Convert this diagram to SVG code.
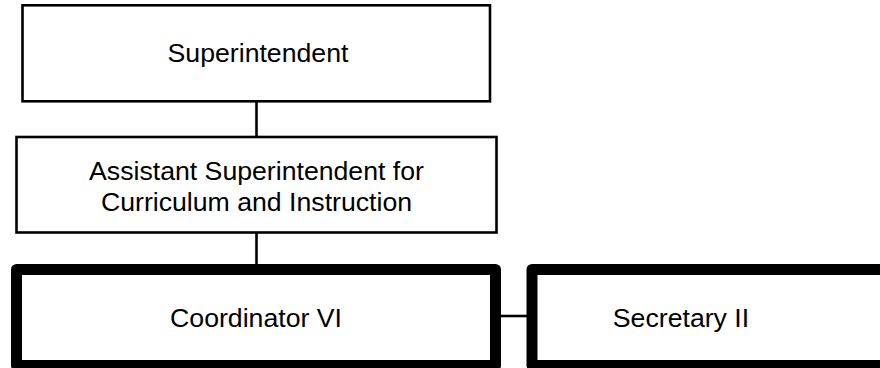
<svg xmlns="http://www.w3.org/2000/svg" width="880" height="368" viewBox="0 0 880 368">
<style>
.box{fill:#fff;stroke:#000;stroke-width:2.6}
.thick{fill:#fff;stroke:#000;stroke-width:11;stroke-linejoin:round}
.lbl{font-family:"Liberation Sans",Arial,sans-serif;font-size:26.67px;fill:#000;text-anchor:middle}
.conn line{stroke:#000;stroke-width:2.6}
</style>
<rect width="880" height="368" fill="#fff"/>
<g id="connectors" class="conn">
<line x1="256.5" y1="101" x2="256.5" y2="137"/>
<line x1="256.5" y1="232" x2="256.5" y2="266"/>
<line x1="499" y1="316" x2="529" y2="316"/>
</g>
<g id="superintendent">
<rect class="box" x="22.5" y="5.3" width="467.5" height="96"/>
<text class="lbl" x="258" y="62">Superintendent</text>
</g>
<g id="assistant">
<rect class="box" x="16.5" y="137" width="480" height="95.5"/>
<text class="lbl" x="256.5" y="180">Assistant Superintendent for</text>
<text class="lbl" x="256.5" y="210.5">Curriculum and Instruction</text>
</g>
<g id="coordinator">
<rect class="thick" x="16.5" y="269.5" width="479" height="96"/>
<text class="lbl" x="256" y="327">Coordinator VI</text>
</g>
<g id="secretary">
<rect class="thick" x="532" y="269.5" width="479" height="96"/>
<text class="lbl" x="681" y="327">Secretary II</text>
</g>
</svg>
